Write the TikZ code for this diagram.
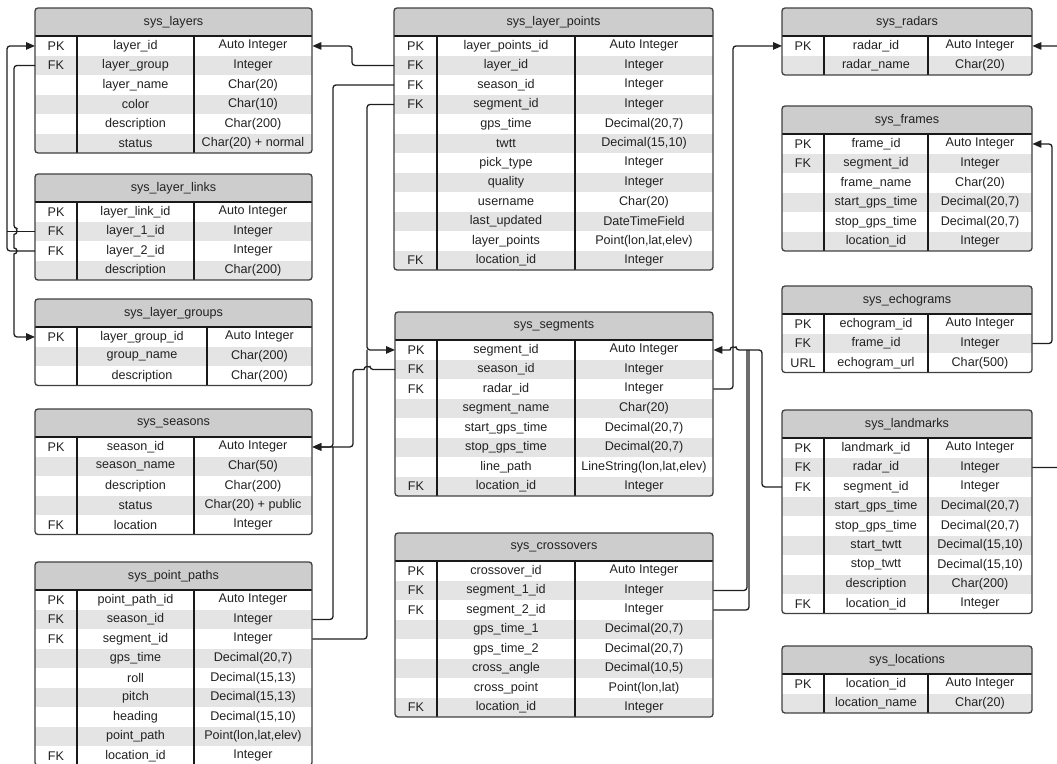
\documentclass[tikz,border=0pt]{standalone}
\usepackage{fontspec}
\setmainfont{Liberation Sans}
\usetikzlibrary{arrows.meta,calc}
\definecolor{rowgray}{HTML}{E4E4E4}
\definecolor{headgray}{HTML}{CDCDCD}
\definecolor{ink}{HTML}{222222}
\definecolor{edge}{HTML}{404040}
\tikzset{
  cell/.style={inner sep=0pt, font=\fontsize{12.6}{14}\selectfont, text=ink},
  tabtitle/.style={inner sep=0pt, font=\fontsize{12.6}{14}\selectfont, text=ink},
  rowbox/.style={inner sep=0pt, minimum height=19.5pt, draw=none},
  headbox/.style={fill=headgray},
  divline/.style={draw=black!90, line width=1.3pt},
  tabborder/.style={draw=edge, line width=1.3pt, rounded corners=3pt},
  conn/.style={draw=black!88, line width=1.3pt, rounded corners=3pt},
  arr/.style={conn, -{Triangle[length=9pt,width=7.5pt]}},
}
% #1 name, #2 left, #3 right, #4 top, #5 div1, #6 div2, #7 title, #8 rows, #9 number of rows
\newcommand\ertable[9]{%
  \pgfmathsetmacro\tabbot{#4+28+#9*19.5}%
  \begin{scope}
    \clip[rounded corners=3pt] (#2,#4) rectangle (#3,\tabbot);
    \fill[headbox] (#2,#4) rectangle (#3,#4+28);
    \foreach \ka/\na/\ty [count=\i] in {#8} {
      \pgfmathsetmacro\ry{#4+28+(\i-1)*19.5}
      \pgfmathtruncatemacro\odd{mod(\i,2)}
      \ifnum\odd=1 \def\rf{white}\else\def\rf{rowgray}\fi
      \node[rowbox, fill=\rf, minimum width={#3-#2}, anchor=north west] (#1-\i) at (#2,\ry) {};
      \node[cell] (#1-\i-k) at ({(#2+#5)/2},\ry+9.75) {\ka};
      \node[cell] (#1-\i-n) at ({(#5+#6)/2},\ry+9.75) {\na};
      \node[cell] (#1-\i-t) at ({(#6+#3)/2},\ry+9.75) {\ty};
    }
  \end{scope}
  \node[tabtitle] (#1-title) at ({(#2+#3)/2},#4+14) {#7};
  \draw[divline] (#5,#4+28) -- (#5,\tabbot);
  \draw[divline] (#6,#4+28) -- (#6,\tabbot);
  \draw[divline] (#2,#4+28) -- (#3,#4+28);
  \draw[tabborder] (#2,#4) rectangle (#3,\tabbot);
}
\begin{document}
\begin{tikzpicture}[x=1pt, y=-1pt]
\useasboundingbox (0,0) rectangle (1057,763);
\fill[white] (0,0) rectangle (1057,763);

% ---------- tables ----------
\ertable{layers}{35}{312}{8}{77}{194}{sys\_layers}{
  PK/layer\_id/Auto Integer,
  FK/layer\_group/Integer,
  {}/layer\_name/Char(20),
  {}/color/Char(10),
  {}/description/Char(200),
  {}/status/Char(20) + normal}{6}

\ertable{links}{35}{312}{174}{77}{194}{sys\_layer\_links}{
  PK/layer\_link\_id/Auto Integer,
  FK/layer\_1\_id/Integer,
  FK/layer\_2\_id/Integer,
  {}/description/Char(200)}{4}

\ertable{groups}{35}{312}{299}{77}{207}{sys\_layer\_groups}{
  PK/layer\_group\_id/Auto Integer,
  {}/group\_name/Char(200),
  {}/description/Char(200)}{3}

\ertable{seasons}{35}{312}{409}{77}{194}{sys\_seasons}{
  PK/season\_id/Auto Integer,
  {}/season\_name/Char(50),
  {}/description/Char(200),
  {}/status/Char(20) + public,
  FK/location/Integer}{5}

\ertable{ppaths}{35}{312}{562}{77}{194}{sys\_point\_paths}{
  PK/point\_path\_id/Auto Integer,
  FK/season\_id/Integer,
  FK/segment\_id/Integer,
  {}/gps\_time/{Decimal(20,7)},
  {}/roll/{Decimal(15,13)},
  {}/pitch/{Decimal(15,13)},
  {}/heading/{Decimal(15,10)},
  {}/point\_path/{Point(lon,lat,elev)},
  FK/location\_id/Integer}{9}

\ertable{lpoints}{394}{713}{8}{437}{575}{sys\_layer\_points}{
  PK/layer\_points\_id/Auto Integer,
  FK/layer\_id/Integer,
  FK/season\_id/Integer,
  FK/segment\_id/Integer,
  {}/gps\_time/{Decimal(20,7)},
  {}/twtt/{Decimal(15,10)},
  {}/pick\_type/Integer,
  {}/quality/Integer,
  {}/username/Char(20),
  {}/last\_updated/DateTimeField,
  {}/layer\_points/{Point(lon,lat,elev)},
  FK/location\_id/Integer}{12}

\ertable{segments}{395}{713}{312}{437}{575}{sys\_segments}{
  PK/segment\_id/Auto Integer,
  FK/season\_id/Integer,
  FK/radar\_id/Integer,
  {}/segment\_name/Char(20),
  {}/start\_gps\_time/{Decimal(20,7)},
  {}/stop\_gps\_time/{Decimal(20,7)},
  {}/line\_path/{LineString(lon,lat,elev)},
  FK/location\_id/Integer}{8}

\ertable{cross}{395}{713}{533}{437}{575}{sys\_crossovers}{
  PK/crossover\_id/Auto Integer,
  FK/segment\_1\_id/Integer,
  FK/segment\_2\_id/Integer,
  {}/gps\_time\_1/{Decimal(20,7)},
  {}/gps\_time\_2/{Decimal(20,7)},
  {}/cross\_angle/{Decimal(10,5)},
  {}/cross\_point/{Point(lon,lat)},
  FK/location\_id/Integer}{8}

\ertable{radars}{782}{1032}{8}{824}{928}{sys\_radars}{
  PK/radar\_id/Auto Integer,
  {}/radar\_name/Char(20)}{2}

\ertable{frames}{782}{1032}{106}{824}{928}{sys\_frames}{
  PK/frame\_id/Auto Integer,
  FK/segment\_id/Integer,
  {}/frame\_name/Char(20),
  {}/start\_gps\_time/{Decimal(20,7)},
  {}/stop\_gps\_time/{Decimal(20,7)},
  {}/location\_id/Integer}{6}

\ertable{echo}{782}{1032}{286}{824}{928}{sys\_echograms}{
  PK/echogram\_id/Auto Integer,
  FK/frame\_id/Integer,
  URL/echogram\_url/Char(500)}{3}

\ertable{landmarks}{782}{1032}{410}{824}{928}{sys\_landmarks}{
  PK/landmark\_id/Auto Integer,
  FK/radar\_id/Integer,
  FK/segment\_id/Integer,
  {}/start\_gps\_time/{Decimal(20,7)},
  {}/stop\_gps\_time/{Decimal(20,7)},
  {}/start\_twtt/{Decimal(15,10)},
  {}/stop\_twtt/{Decimal(15,10)},
  {}/description/Char(200),
  FK/location\_id/Integer}{9}

\ertable{locs}{782}{1032}{646}{824}{928}{sys\_locations}{
  PK/location\_id/Auto Integer,
  {}/location\_name/Char(20)}{2}

% ---------- routing columns ----------
\coordinate (v7) at (7,0);
\coordinate (v14) at (14,0);
\coordinate (v333) at (333,0);
\coordinate (v352) at (352,0);
\coordinate (v353) at (353,0);
\coordinate (v367) at (367,0);
\coordinate (v370) at (370,0);
\coordinate (v733) at (733,0);
\coordinate (v736) at (736,0);
\coordinate (v747) at (747,0);
\coordinate (v749) at (749,0);
\coordinate (v762) at (762,0);
\coordinate (v1052) at (1052,0);
\coordinate (v1066) at (1066,0);

% ---------- connectors ----------
% layer links -> layers.layer_id
\draw[arr] (links-3.west) -- (links-3.west -| v7) -- (layers-1.west -| v7) -- (layers-1.west);
\draw[conn] (links-2.west) -- (links-2.west -| v7);
% layers.layer_group -> layer_groups.layer_group_id (hops over the link lines)
\draw[arr] (layers-2.west) -- (layers-2.west -| v14)
  -- ($(links-2.west -| v14)+(0,-3)$) [sharp corners] arc(90:-90:3pt)
  -- ($(links-3.west -| v14)+(0,-3)$) arc(90:-90:3pt) [rounded corners=3pt]
  -- (groups-1.west -| v14) -- (groups-1.west);
% layer_points.layer_id -> layers.layer_id
\draw[arr] (lpoints-2.west) -- (lpoints-2.west -| v352) -- (layers-1.east -| v352) -- (layers-1.east);
% layer_points.season_id -> seasons.season_id
\draw[arr] (lpoints-3.west) -- (lpoints-3.west -| v333) -- (seasons-1.east -| v333) -- (seasons-1.east);
\draw[conn] (ppaths-2.east) -- (ppaths-2.east -| v333) -- (seasons-1.east -| v333);
% segments.season_id -> seasons.season_id
\draw[arr] (segments-2.west) -- (segments-2.west -| v370) [sharp corners] arc(0:180:3pt) [rounded corners=3pt]
  -- (segments-2.west -| v353) -- (seasons-1.east -| v353) -- (seasons-1.east);
% layer_points.segment_id, point_paths.segment_id -> segments.segment_id
\draw[arr] (lpoints-4.west) -- (lpoints-4.west -| v367) -- (segments-1.west -| v367) -- (segments-1.west);
\draw[conn] (ppaths-3.east) -- (ppaths-3.east -| v367) -- (segments-1.west -| v367);
% segments.radar_id -> radars.radar_id
\draw[arr] (segments-3.east) -- (segments-3.east -| v733) -- (radars-1.west -| v733) -- (radars-1.west);
% landmarks.segment_id -> segments.segment_id (hop)
\draw[arr] (landmarks-3.west) -- (landmarks-3.west -| v762) -- (segments-1.east -| v762)
  -- (segments-1.east -| v736) [sharp corners] arc(0:180:3pt) -- (segments-1.east);
% crossovers -> segments.segment_id
\draw[conn] (cross-2.east) -- (cross-2.east -| v747) -- (segments-1.east -| v747);
\draw[conn] (cross-3.east) -- (cross-3.east -| v749) -- (segments-1.east -| v749);
% echograms.frame_id -> frames.frame_id
\draw[arr] (echo-2.east) -- (echo-2.east -| v1052) -- (frames-1.east -| v1052) -- (frames-1.east);
% landmarks.radar_id -> radars.radar_id (routed past the right edge)
\draw[arr] (landmarks-2.east) -- (landmarks-2.east -| v1066) -- (radars-1.east -| v1066) -- (radars-1.east);
\end{tikzpicture}
\end{document}
